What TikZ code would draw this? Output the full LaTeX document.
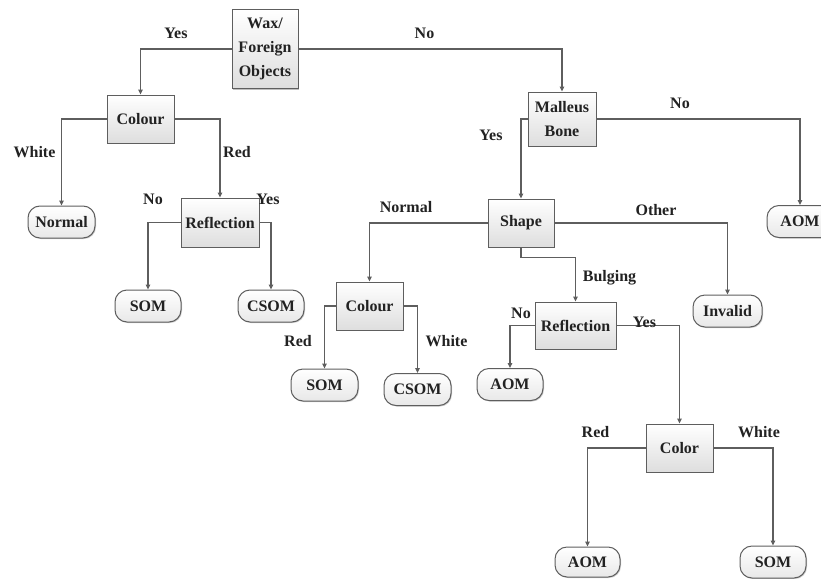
\documentclass[tikz,border=0pt]{standalone}
\usepackage{fontspec}
\setmainfont{Liberation Serif}
\usetikzlibrary{arrows.meta,shadows}
\definecolor{linec}{HTML}{5E5E5E}
\definecolor{txtc}{HTML}{222222}
\begin{document}
\begin{tikzpicture}[x=1pt,y=-1pt,
  every node/.style={font=\fontsize{16}{24}\selectfont\bfseries, text=txtc, inner sep=0pt},
  decbox/.style={draw=linec, line width=1pt, top color=white, bottom color=black!13,
    drop shadow={shadow xshift=1pt, shadow yshift=-1pt, opacity=0.25, fill=black},
    align=center, minimum width=#1},
  decbox/.default=67pt,
  termbox/.style={draw=linec, line width=1pt, rounded corners=12pt, top color=white, bottom color=black!9,
    drop shadow={shadow xshift=1pt, shadow yshift=-1pt, opacity=0.2, fill=black},
    minimum height=32pt, minimum width=#1},
  termbox/.default=66pt,
  lbl/.style={},
  conn/.style={draw=linec, line width=1.1pt, -{Triangle[length=5pt,width=4.5pt]}}
]
\useasboundingbox (0,0) rectangle (821,578);
\fill[white] (0,0) rectangle (821,578);

% decision boxes
\node[decbox=66pt, minimum height=79pt] (wax) at (265,49) {Wax/\\Foreign\\Objects};
\node[decbox, minimum height=48pt] (col1) at (140.5,119) {Colour};
\node[decbox=68pt, minimum height=54pt] (mal) at (562,119) {Malleus\\Bone};
\node[decbox=78pt, minimum height=49pt] (ref1) at (220,222.5) {Reflection};
\node[decbox=66pt, minimum height=48pt] (shape) at (521,223) {Shape};
\node[decbox, minimum height=48pt] (col2) at (369.5,306) {Colour};
\node[decbox=81pt, minimum height=47pt] (ref2) at (575.5,325.5) {Reflection};
\node[decbox, minimum height=48pt] (col3) at (679.5,448) {Color};

% terminals
\node[termbox=67pt] (normal) at (61.5,222) {Normal};
\node[termbox] (som1) at (148,306) {SOM};
\node[termbox] (csom1) at (271,306) {CSOM};
\node[termbox] (aom1) at (800,221.5) {AOM};
\node[termbox=69pt] (invalid) at (727.5,311) {Invalid};
\node[termbox=67pt] (som2) at (324.5,385) {SOM};
\node[termbox=67pt] (csom2) at (417.5,389.5) {CSOM};
\node[termbox] (aom2) at (510,384.5) {AOM};
\node[termbox=65pt, minimum height=30pt] (aom3) at (587.5,562) {AOM};
\node[termbox] (som3) at (773,562) {SOM};

% connectors
\draw[conn] (wax.west) -| (col1.north);
\draw[conn] (wax.east) -| (mal.north);
\draw[conn] (col1.west) -| (normal.north);
\draw[conn] (col1.east) -| (ref1.north);
\draw[conn] (ref1.west) -| (som1.north);
\draw[conn] (ref1.east) -| (csom1.north);
\draw[conn] (mal.west) -| (shape.north);
\draw[conn] (mal.east) -| (aom1.north);
\draw[conn] (shape.west) -| (col2.north);
\draw[conn] (shape.east) -| (invalid.north);
\draw[conn] (shape.south) -- ++(0,10) -| (ref2.north);
\draw[conn] (col2.west) -| (som2.north);
\draw[conn] (col2.east) -| (csom2.north);
\draw[conn] (ref2.west) -| (aom2.north);
\draw[conn] (ref2.east) -| (col3.north);
\draw[conn] (col3.west) -| (aom3.north);
\draw[conn] (col3.east) -| (som3.north);

% labels
\node[lbl] (l1) at (176,33) {Yes};
\node[lbl] (l2) at (424.5,33) {No};
\node[lbl] (l3) at (34.5,152) {White};
\node[lbl] (l4) at (237,152) {Red};
\node[lbl] (l5) at (153,199) {No};
\node[lbl] (l6) at (268,199) {Yes};
\node[lbl] (l7) at (680,103) {No};
\node[lbl] (l8) at (491,135) {Yes};
\node[lbl] (l9) at (406,207) {Normal};
\node[lbl] (l10) at (656,210) {Other};
\node[lbl] (l11) at (609.5,278) {Bulging};
\node[lbl] (l12) at (298,341) {Red};
\node[lbl] (l13) at (446.5,341) {White};
\node[lbl] (l14) at (521,313) {No};
\node[lbl] (l15) at (644.5,322) {Yes};
\node[lbl] (l16) at (595.5,432) {Red};
\node[lbl] (l17) at (759,432) {White};
\end{tikzpicture}
\end{document}
